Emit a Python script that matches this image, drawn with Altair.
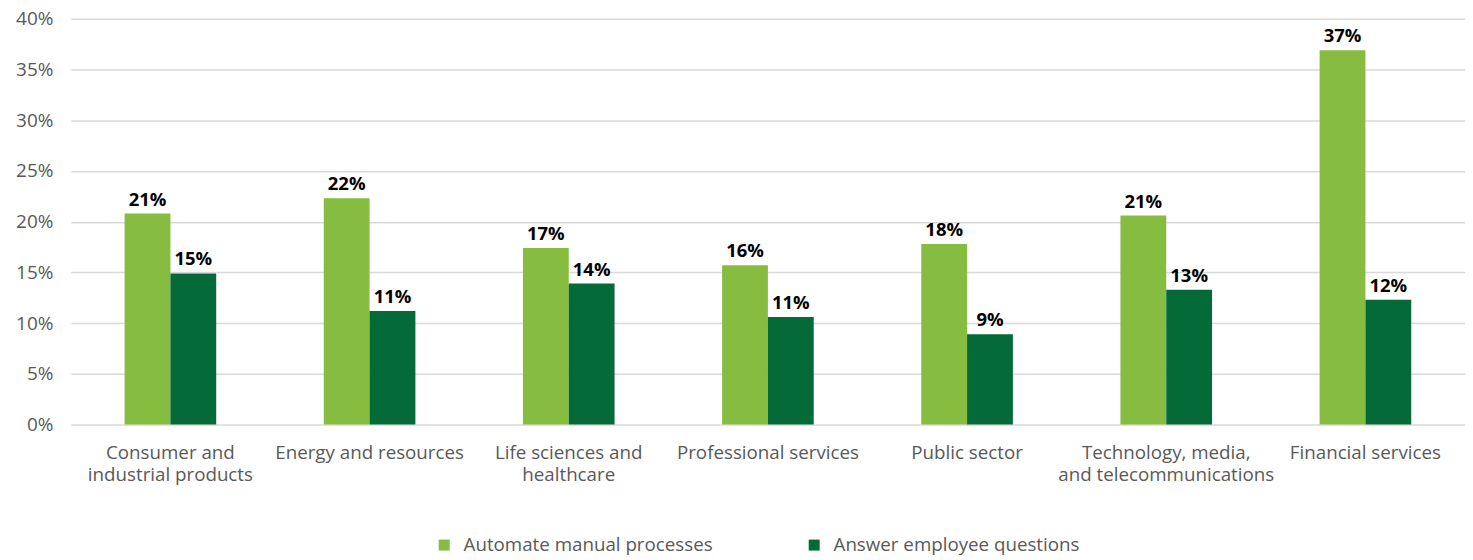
import altair as alt
import pandas as pd

categories = [
    "Consumer and\nindustrial products",
    "Energy and resources",
    "Life sciences and\nhealthcare",
    "Professional services",
    "Public sector",
    "Technology, media,\nand telecommunications",
    "Financial services",
]
series = ["Automate manual processes", "Answer employee questions"]
automate = [20.8, 22.3, 17.4, 15.7, 17.8, 20.6, 36.9]
answer = [14.9, 11.2, 13.9, 10.6, 8.9, 13.3, 12.3]
colors = ["#86BC40", "#046A38"]

rows = []
for c, a, b in zip(categories, automate, answer):
    rows.append({"category": c, "series": series[0], "value": a / 100})
    rows.append({"category": c, "series": series[1], "value": b / 100})
df = pd.DataFrame(rows)

FONT = "Open Sans"
GREY = "#595959"

x = alt.X(
    "category:N",
    sort=categories,
    title=None,
    scale=alt.Scale(paddingInner=0.54, paddingOuter=0.27),
    axis=alt.Axis(
        labelExpr="split(datum.label, '\\n')",
        labelAngle=0,
        labelFontSize=18.8,
        labelColor=GREY,
        labelFont=FONT,
        labelLineHeight=22,
        labelPadding=19,
        domain=False,
        ticks=False,
        grid=False,
        labelLimit=400,
    ),
)
xo = alt.XOffset("series:N", sort=series, scale=alt.Scale(paddingInner=0, paddingOuter=0))

base = alt.Chart(df).encode(x=x, xOffset=xo)

bars = base.mark_bar().encode(
    y=alt.Y(
        "value:Q",
        title=None,
        scale=alt.Scale(domain=[0, 0.4]),
        axis=alt.Axis(
            values=[0, 0.05, 0.1, 0.15, 0.2, 0.25, 0.3, 0.35, 0.4],
            format=".0%",
            labelFontSize=19,
            labelColor=GREY,
            labelFont=FONT,
            labelPadding=18,
            domain=False,
            ticks=False,
            gridColor="#d9d9d9",
            gridWidth=1.5,
        ),
    ),
    color=alt.Color(
        "series:N",
        sort=series,
        scale=alt.Scale(domain=series, range=colors),
        legend=alt.Legend(
            title=None,
            orient="none",
            legendX=365,
            legendY=518,
            direction="horizontal",
            symbolType="square",
            symbolSize=121,
            symbolStrokeWidth=0,
            labelFontSize=18.8,
            labelColor=GREY,
            labelFont=FONT,
            labelOffset=10,
            columnPadding=92,
            labelLimit=400,
        ),
    ),
)

labels = base.mark_text(
    baseline="bottom", dy=-4, fontSize=18.5, fontWeight="bold", font=FONT, color="#000000"
).encode(
    y="value:Q",
    text=alt.Text("value:Q", format=".0%"),
)

chart = (
    (bars + labels)
    .properties(width=1398, height=407, padding={"left": 7, "top": 1, "right": 0, "bottom": 5})
    .configure_view(stroke=None)
)

chart.save("out.html", embed_options={"renderer": "svg", "actions": False})
